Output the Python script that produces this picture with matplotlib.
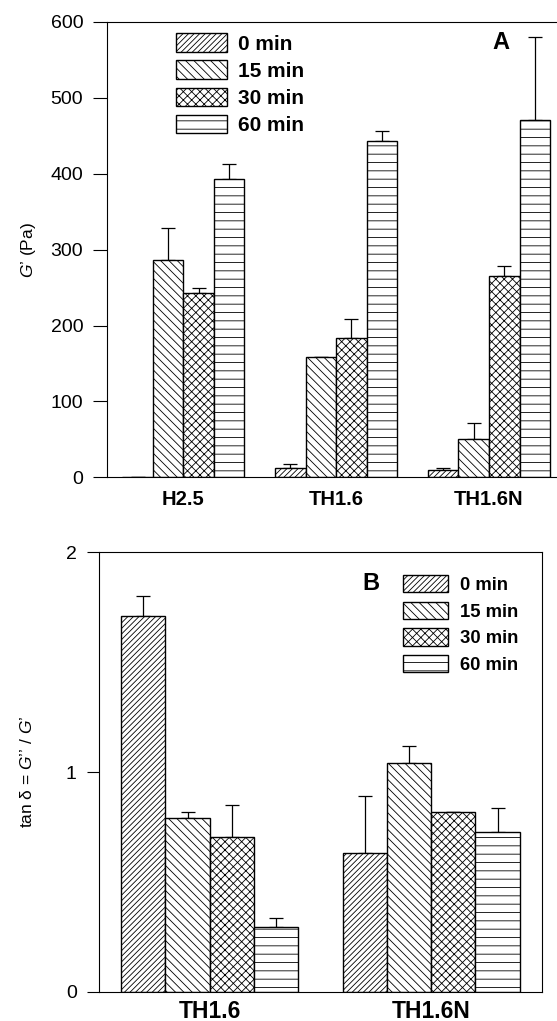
import matplotlib
matplotlib.use("Agg")
import matplotlib.pyplot as plt
import numpy as np

plt.rcParams['font.family'] = ['Liberation Sans', 'DejaVu Sans']
plt.rcParams['hatch.linewidth'] = 0.6
plt.rcParams['mathtext.fontset'] = 'custom'
plt.rcParams['mathtext.it'] = 'Liberation Sans:italic'
plt.rcParams['mathtext.rm'] = 'Liberation Sans'

series = ['0 min', '15 min', '30 min', '60 min']
hatches = ['//////', '\\\\\\\\', 'xxxx', '--']

# Panel A: G' (Pa)
cats_a = ['H2.5', 'TH1.6', 'TH1.6N']
g_vals = {
    '0 min':  [1, 12, 9],
    '15 min': [286, 158, 50],
    '30 min': [243, 184, 265],
    '60 min': [393, 443, 471],
}
g_err_top = {
    '0 min':  [1, 18, 12],
    '15 min': [328, 159, 72],
    '30 min': [250, 208, 279],
    '60 min': [413, 456, 580],
}

# Panel B: tan delta
cats_b = ['TH1.6', 'TH1.6N']
t_vals = {
    '0 min':  [1.71, 0.63],
    '15 min': [0.79, 1.04],
    '30 min': [0.705, 0.82],
    '60 min': [0.293, 0.727],
}
t_err_top = {
    '0 min':  [1.80, 0.89],
    '15 min': [0.817, 1.12],
    '30 min': [0.849, 0.82],
    '60 min': [0.336, 0.834],
}

fig = plt.figure(figsize=(5.57, 10.21), dpi=100)

def draw(ax, cats, vals, errs, width=0.2):
    x = np.arange(len(cats))
    handles = []
    for i, s in enumerate(series):
        pos = x + (i - 1.5) * width
        v = np.array(vals[s], dtype=float)
        e = np.array(errs[s], dtype=float) - v
        b = ax.bar(pos, v, width, color='white', edgecolor='black', linewidth=1.0,
                   hatch=hatches[i], label=s, zorder=2)
        ax.errorbar(pos, v, yerr=[np.zeros_like(e), e], fmt='none', ecolor='black',
                    elinewidth=0.9, capsize=5, capthick=0.9, zorder=1)
        handles.append(b)
    ax.set_xticks(x)
    ax.set_xticklabels(cats, fontweight='bold')
    ax.tick_params(axis='x', length=0)
    ax.tick_params(axis='y', direction='out', width=0.8, pad=7)
    return handles

# Top panel
axA = fig.add_axes([0.192, 0.5325, 0.823, 0.446])
hA = draw(axA, cats_a, g_vals, g_err_top)
axA.set_xlim(-0.5, 2.5)
axA.set_ylim(0, 600)
axA.set_yticks([0, 100, 200, 300, 400, 500, 600])
axA.tick_params(axis='y', labelsize=14, length=10)
axA.tick_params(axis='x', labelsize=14.5, pad=9)
axA.set_ylabel("$G$’ (Pa)", fontsize=12.5, labelpad=9)
axA.text(0.86, 0.955, 'A', transform=axA.transAxes, fontsize=17, fontweight='bold',
         ha='center', va='center')
legA = axA.legend(handles=hA, loc='upper left', bbox_to_anchor=(0.150, 0.975),
                  frameon=False, borderpad=0, borderaxespad=0,
                  prop={'weight': 'bold', 'size': 15},
                  handlelength=2.45, handleheight=1.0, handletextpad=0.55,
                  labelspacing=0.32)
axA.spines['right'].set_visible(False)

# Bottom panel
axB = fig.add_axes([0.1777, 0.0287, 0.795, 0.4303])
hB = draw(axB, cats_b, t_vals, t_err_top)
axB.set_xlim(-0.5, 1.5)
axB.set_ylim(0, 2)
axB.set_yticks([0, 1, 2])
axB.tick_params(axis='y', labelsize=14, length=9)
axB.tick_params(axis='x', labelsize=16.5, pad=6)
axB.set_ylabel("tan δ = $G$’’ / $G$’", fontsize=12.5, labelpad=22)
axB.text(0.615, 0.928, 'B', transform=axB.transAxes, fontsize=17, fontweight='bold',
         ha='center', va='center')
legB = axB.legend(handles=hB, loc='upper left', bbox_to_anchor=(0.687, 0.948),
                  frameon=False, borderpad=0, borderaxespad=0,
                  prop={'weight': 'bold', 'size': 13.3},
                  handlelength=2.45, handleheight=1.05, handletextpad=0.6,
                  labelspacing=0.42)

fig.savefig('out.png', dpi=100)
